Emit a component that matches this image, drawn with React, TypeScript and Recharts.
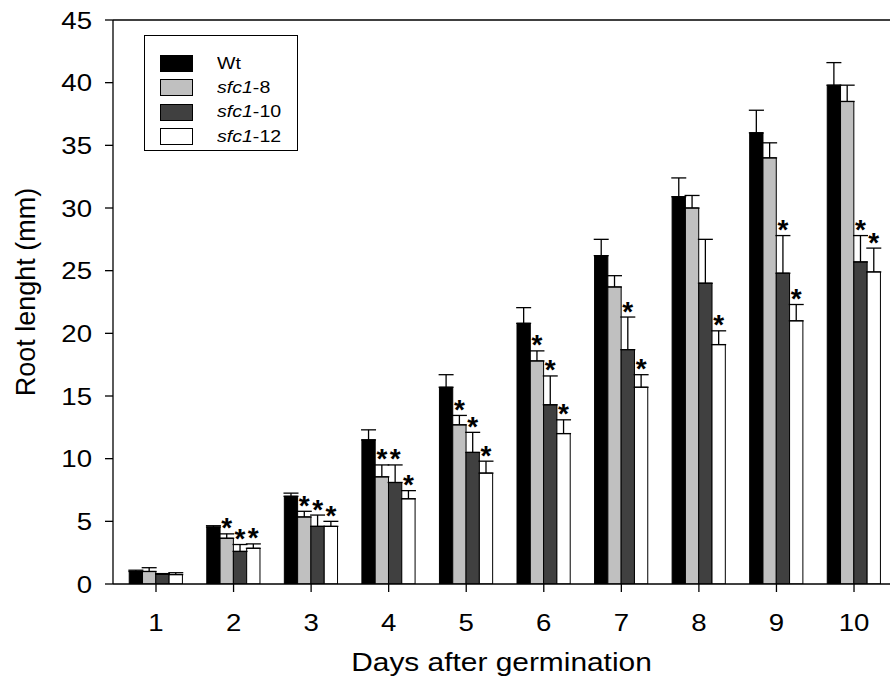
import React from 'react';
import { BarChart, Bar, XAxis, YAxis, ErrorBar, LabelList, Legend, ReferenceLine, Label } from 'recharts';

const FONT = '"Liberation Sans", Arial, Helvetica, sans-serif';
const STRETCH = 1.15;

const days = [1, 2, 3, 4, 5, 6, 7, 8, 9, 10];
const seriesNames = ['Wt', 'sfc1-8', 'sfc1-10', 'sfc1-12'];
const seriesColors = ['#000000', '#c0c0c0', '#404040', '#ffffff'];

const wtValues = [1.0, 4.55, 7.0, 11.5, 15.7, 20.8, 26.2, 30.9, 36.0, 39.8];
const wtErrors = [0.1, 0.1, 0.25, 0.8, 1.0, 1.25, 1.3, 1.5, 1.8, 1.8];
const wtSig = [0, 0, 0, 0, 0, 0, 0, 0, 0, 0];

const s8Values = [1.0, 3.65, 5.35, 8.55, 12.7, 17.8, 23.7, 30.0, 34.0, 38.5];
const s8Errors = [0.3, 0.35, 0.45, 0.95, 0.75, 0.8, 0.9, 1.0, 1.2, 1.3];
const s8Sig = [0, 1, 1, 1, 1, 1, 0, 0, 0, 0];

const s10Values = [0.78, 2.6, 4.6, 8.1, 10.5, 14.3, 18.7, 24.0, 24.8, 25.7];
const s10Errors = [0.05, 0.55, 0.9, 1.4, 1.6, 2.3, 2.6, 3.5, 3.0, 2.1];
const s10Sig = [0, 1, 1, 1, 1, 1, 1, 0, 1, 1];

const s12Values = [0.75, 2.85, 4.6, 6.8, 8.85, 12.0, 15.7, 19.1, 21.0, 24.9];
const s12Errors = [0.15, 0.35, 0.4, 0.65, 0.95, 1.1, 1.0, 1.1, 1.3, 1.9];
const s12Sig = [0, 1, 1, 1, 1, 1, 1, 1, 1, 1];

const yTicks = [0, 5, 10, 15, 20, 25, 30, 35, 40, 45];

const data = days.map((d, i) => ({
  day: d,
  wt: wtValues[i],
  wtErr: [0, wtErrors[i]],
  s8: s8Values[i],
  s8Err: [0, s8Errors[i]],
  s10: s10Values[i],
  s10Err: [0, s10Errors[i]],
  s12: s12Values[i],
  s12Err: [0, s12Errors[i]],
}));

const makeStar = (values: number[], errors: number[], sig: number[]) => (props: any) => {
  const index = props.index;
  if (index == null || !sig[index]) return null;
  const vb = props.viewBox || {};
  const x = vb.x ?? props.x;
  const y = vb.y ?? props.y;
  const w = vb.width ?? props.width;
  const h = vb.height ?? props.height;
  if (x == null || y == null || !h) return null;
  const top = Math.min(y, y + h);
  const pxPerUnit = Math.abs(h) / values[index];
  const capY = top - errors[index] * pxPerUnit;
  return (
    <text
      key={`star-${index}`}
      x={x + w / 2}
      y={capY + 3.5}
      textAnchor="middle"
      fontSize={28}
      fontWeight="bold"
      fontFamily={FONT}
      fill="#000"
    >
      *
    </text>
  );
};

const XTick = (p: any) => (
  <g transform={`translate(${p.x},${p.y})`}>
    <text transform={`scale(${STRETCH},1)`} x={0} y={0} dy="0.71em" textAnchor="middle" fontSize={24} fontFamily={FONT} fill="#000">
      {p.payload.value}
    </text>
  </g>
);

const YTick = (p: any) => (
  <g transform={`translate(${p.x},${p.y})`}>
    <text transform={`scale(${STRETCH},1)`} x={0} y={0} dy="0.355em" textAnchor="end" fontSize={24} fontFamily={FONT} fill="#000">
      {p.payload.value}
    </text>
  </g>
);

const renderLegend = () => {
  return (
    <div
      style={{
        width: 154,
        height: 116,
        border: '1.5px solid #000',
        boxSizing: 'border-box',
        background: '#fff',
        position: 'relative',
        fontFamily: FONT,
      }}
    >
      {seriesNames.map((name: string, i: number) => {
        const color = seriesColors[i];
        const dash = name.indexOf('-');
        const rowCenter = 27.5 + i * 24.4;
        return (
          <div key={name} style={{ position: 'absolute', left: 0, top: 0 }}>
            <div
              style={{
                position: 'absolute',
                left: 15,
                top: rowCenter - 8.5,
                width: 33,
                height: 17,
                background: color,
                border: '1.2px solid #000',
                boxSizing: 'border-box',
              }}
            />
            <div
              style={{
                position: 'absolute',
                left: 72,
                top: rowCenter - 11,
                height: 22,
                lineHeight: '22px',
                fontSize: 17,
                whiteSpace: 'nowrap',
                color: '#000',
                transform: `scaleX(${STRETCH})`,
                transformOrigin: 'left center',
              }}
            >
              {dash > 0 ? (
                <>
                  <i>{name.slice(0, dash)}</i>
                  {name.slice(dash)}
                </>
              ) : (
                name
              )}
            </div>
          </div>
        );
      })}
    </div>
  );
};

export default function App() {
  return (
    <div>
      <style>{'html,body{margin:0;padding:0;overflow:hidden;background:#fff;}'}</style>
      <BarChart
        width={890}
        height={689}
        data={data}
        margin={{ top: 20, right: 0, bottom: 0, left: 0 }}
        barGap={0}
        style={{ fontFamily: FONT }}
      >
        <XAxis
          dataKey="day"
          type="number"
          domain={[0.4456, 10.464]}
          ticks={days}
          height={105}
          tickSize={8}
          tickMargin={22}
          axisLine={{ stroke: '#000', strokeWidth: 1.3 }}
          tickLine={{ stroke: '#000', strokeWidth: 1.3 }}
          tick={(p: any) => <XTick {...p} />}
          allowDataOverflow
        >
          <Label
            content={(props: any) => {
              const vb = props.viewBox || { x: 113, width: 777 };
              const cx = vb.x + vb.width / 2;
              const by = 671;
              return (
                <g transform={`translate(${cx},${by})`}>
                  <text transform={`scale(${STRETCH},1)`} x={0} y={0} textAnchor="middle" fontSize={26} fontFamily={FONT} fill="#000">
                    Days after germination
                  </text>
                </g>
              );
            }}
          />
        </XAxis>
        <YAxis
          domain={[0, 45]}
          ticks={yTicks}
          width={113}
          tickSize={8}
          tickMargin={13}
          axisLine={{ stroke: '#000', strokeWidth: 1.3 }}
          tickLine={{ stroke: '#000', strokeWidth: 1.3 }}
          tick={(p: any) => <YTick {...p} />}
          allowDataOverflow
        >
          <Label
            content={() => (
              <text
                x={26}
                y={292}
                transform="rotate(-90 26 292)"
                textAnchor="middle"
                dominantBaseline="central"
                fontSize={27}
                fontFamily={FONT}
                fill="#000"
              >
                Root lenght (mm)
              </text>
            )}
          />
        </YAxis>
        <ReferenceLine y={45} stroke="#000" strokeWidth={1.3} ifOverflow="visible" />
        <Legend
          layout="horizontal"
          verticalAlign="middle"
          align="center"
          content={renderLegend}
          wrapperStyle={{ left: 144, top: 35, width: 154, height: 116 }}
        />
        <Bar dataKey="wt" name="Wt" fill={seriesColors[0]} stroke="#000" strokeWidth={1} barSize={13.3} isAnimationActive={false}>
          <ErrorBar dataKey="wtErr" width={7.5} stroke="#000" strokeWidth={1.3} direction="y" />
          <LabelList dataKey="wt" content={makeStar(wtValues, wtErrors, wtSig)} />
        </Bar>
        <Bar dataKey="s8" name="sfc1-8" fill={seriesColors[1]} stroke="#000" strokeWidth={1} barSize={13.3} isAnimationActive={false}>
          <ErrorBar dataKey="s8Err" width={7.5} stroke="#000" strokeWidth={1.3} direction="y" />
          <LabelList dataKey="s8" content={makeStar(s8Values, s8Errors, s8Sig)} />
        </Bar>
        <Bar dataKey="s10" name="sfc1-10" fill={seriesColors[2]} stroke="#000" strokeWidth={1} barSize={13.3} isAnimationActive={false}>
          <ErrorBar dataKey="s10Err" width={7.5} stroke="#000" strokeWidth={1.3} direction="y" />
          <LabelList dataKey="s10" content={makeStar(s10Values, s10Errors, s10Sig)} />
        </Bar>
        <Bar dataKey="s12" name="sfc1-12" fill={seriesColors[3]} stroke="#000" strokeWidth={1} barSize={13.3} isAnimationActive={false}>
          <ErrorBar dataKey="s12Err" width={7.5} stroke="#000" strokeWidth={1.3} direction="y" />
          <LabelList dataKey="s12" content={makeStar(s12Values, s12Errors, s12Sig)} />
        </Bar>
      </BarChart>
    </div>
  );
}
